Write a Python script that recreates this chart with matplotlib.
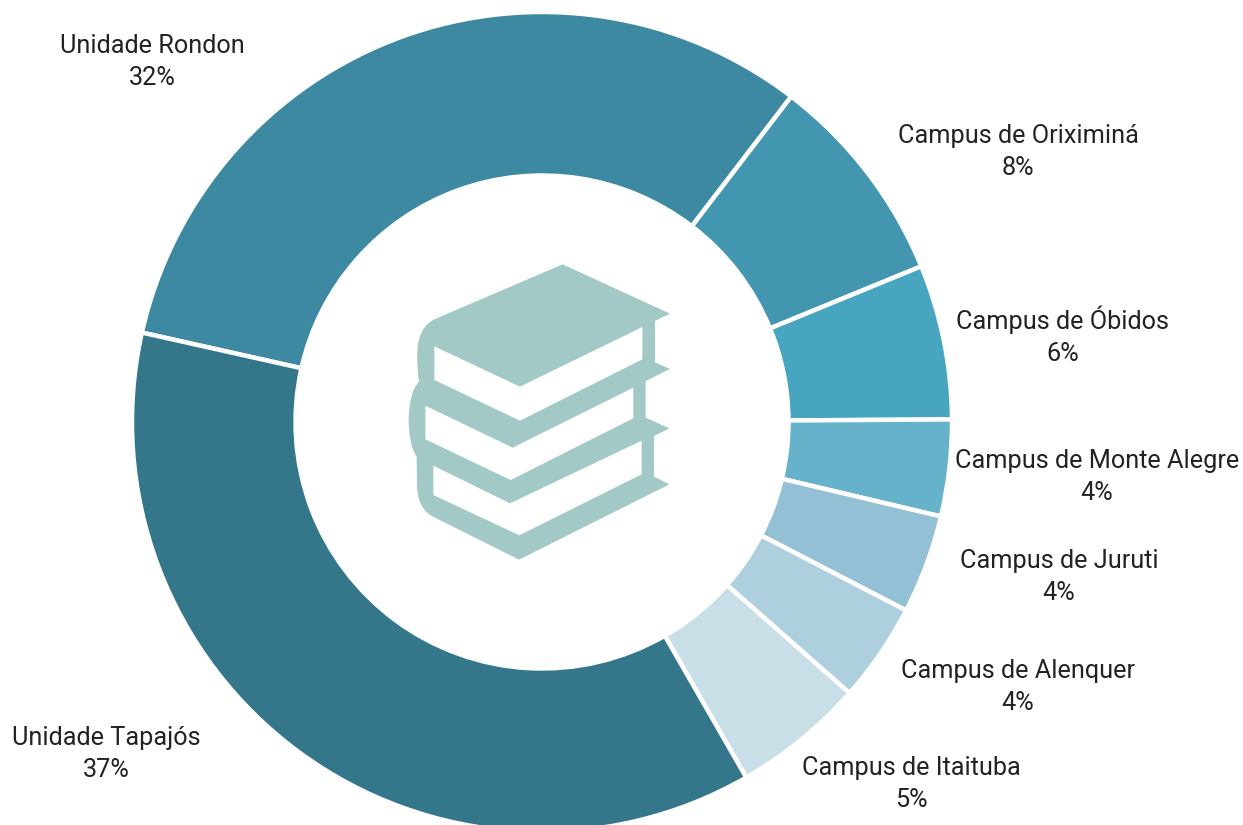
import matplotlib
matplotlib.use('Agg')
import matplotlib.pyplot as plt
from matplotlib.path import Path
from matplotlib.patches import PathPatch, Polygon

plt.rcParams['font.family'] = ['Roboto', 'DejaVu Sans']

# Clockwise, starting from the Rondon / Tapajos boundary
units = ['Unidade Rondon', 'Campus de Oriximiná', 'Campus de Óbidos', 'Campus de Monte Alegre',
         'Campus de Juruti', 'Campus de Alenquer', 'Campus de Itaituba', 'Unidade Tapajós']
shares = [31.9, 8.4, 6.1, 3.8, 3.9, 3.9, 5.2, 36.8]
share_labels = ['32%', '8%', '6%', '4%', '4%', '4%', '5%', '37%']
colors = ['#3D89A1', '#4296B0', '#48A5BF', '#66B2CB', '#93C0D4', '#AED0DE', '#C9DFE8', '#34778B']

# label centres, in picture pixels
label_x = [152, 1018, 1063, 1097, 1059, 1018, 911, 106]
label_y = [62, 152, 336, 477, 577, 687, 784, 754]

W, H = 1243, 825
ICON = '#A3C9C6'


def py(y):
    return H - y


def zoomed(x, y):
    # icon was traced on a 3x crop whose corner is at (400, 255)
    return 400 + x / 3., py(255 + y / 3.)


fig = plt.figure(figsize=(W / 100., H / 100.), dpi=100)
ax = fig.add_axes([0, 0, 1, 1])

ax.pie(shares, colors=colors, startangle=167.4, counterclock=False,
       center=(542, py(422)), radius=410,
       wedgeprops=dict(width=163.5, edgecolor='white', linewidth=3.2))

for name, share, x, y in zip(units, share_labels, label_x, label_y):
    ax.text(x, py(y), name + '\n' + share, ha='center', va='center', fontsize=18.2,
            color='#222222', linespacing=1.43, fontweight='normal')

# book stack silhouette
M, L, C = Path.MOVETO, Path.LINETO, Path.CURVE3
icon = [(M, 488, 28), (L, 810, 176), (L, 765, 198), (L, 765, 322), (L, 810, 342), (L, 737, 378),
        (L, 737, 488), (L, 808, 520), (L, 762, 543), (L, 762, 665), (L, 808, 688), (L, 357, 914),
        (L, 105, 788), (C, 52, 765), (C, 51, 690), (L, 50, 605), (C, 26, 570), (C, 26, 490),
        (C, 28, 410), (C, 57, 380), (C, 50, 340), (C, 52, 290), (C, 55, 215), (C, 105, 192), (L, 488, 28)]
verts = [zoomed(p[1], p[2]) for p in icon]
codes = [p[0] for p in icon]
ax.add_patch(PathPatch(Path(verts, codes), facecolor=ICON, edgecolor='none', zorder=3))

pages = [
    [(103, 274), (360, 395), (727, 216), (727, 313), (360, 497), (103, 375)],
    [(76, 452), (338, 578), (700, 398), (700, 490), (332, 675), (76, 553)],
    [(100, 632), (330, 745), (725, 557), (725, 658), (358, 841), (100, 720)],
]
for page in pages:
    ax.add_patch(Polygon([zoomed(x, y) for x, y in page], facecolor='white', edgecolor='none', zorder=4))

ax.set_xlim(0, W)
ax.set_ylim(0, H)
ax.axis('off')

fig.savefig('out.png', dpi=100)
plt.close(fig)
